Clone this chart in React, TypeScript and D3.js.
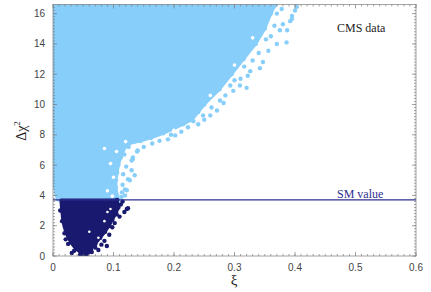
import React from 'react';
import * as d3 from 'd3';

// light-blue cloud (all points): Δχ² level, left and right edge in ξ
const lightChi = [3.7, 4.0, 4.5, 5.0, 5.5, 6.0, 6.5, 7.0, 7.4, 7.6, 7.8, 8.1, 8.4, 8.7, 9.0, 9.5, 10.0, 11.0, 12.0, 13.0, 14.0, 15.0, 16.0, 16.6];
const lightLeft = [0.008, 0.005, 0.003, 0.001, 0, 0, 0, 0, 0, 0, 0, 0, 0, 0, 0, 0, 0, 0, 0, 0, 0, 0, 0, 0];
const lightRight = [0.108, 0.106, 0.104, 0.104, 0.106, 0.108, 0.112, 0.116, 0.125, 0.145, 0.162, 0.182, 0.2, 0.215, 0.23, 0.24, 0.25, 0.275, 0.295, 0.315, 0.335, 0.35, 0.36, 0.368];

// stray light points outside the dense edge [ξ, Δχ²]
const lightDots: [number, number][] = [
  [0.403, 16.45], [0.392, 15.5], [0.387, 14.9], [0.386, 14.1], [0.37, 14.0], [0.356, 13.55],
  [0.347, 12.8], [0.342, 12.4], [0.33, 12.9], [0.326, 12.2], [0.32, 11.1], [0.309, 11.25],
  [0.298, 10.9], [0.375, 14.9], [0.37, 16.0], [0.395, 15.85], [0.395, 15.66], [0.4, 16.2],
  [0.322, 11.9], [0.293, 11.25], [0.276, 10.26], [0.271, 9.6], [0.26, 9.28], [0.248, 9.28],
  [0.223, 8.5], [0.202, 7.96], [0.164, 7.43], [0.14, 6.97], [0.132, 6.5], [0.13, 5.66],
  [0.135, 5.33], [0.127, 5.0], [0.122, 4.34], [0.119, 4.0], [0.13, 6.3], [0.139, 6.9],
  [0.132, 6.4], [0.124, 5.07], [0.119, 4.4], [0.114, 4.2], [0.38, 15.3], [0.36, 14.5],
  [0.31, 11.7], [0.285, 10.6], [0.232, 8.9], [0.19, 7.7], [0.176, 7.6], [0.125, 7.2],
  [0.378, 16.3], [0.366, 15.2], [0.352, 14.3], [0.34, 13.4], [0.316, 12.5], [0.3, 11.6],
  [0.282, 10.1], [0.262, 9.8], [0.24, 8.7], [0.212, 8.2], [0.195, 8.0], [0.15, 7.2],
  [0.118, 6.7], [0.121, 5.9], [0.116, 5.4], [0.115, 4.7], [0.113, 3.9], [0.25, 9.0],
];

// white gaps seen inside the cloud near its edge [ξ, Δχ²]
const gaps: [number, number][] = [
  [0.1, 5.2], [0.095, 6.1], [0.105, 6.9], [0.09, 4.3], [0.12, 7.55], [0.2, 8.3],
  [0.26, 10.6], [0.3, 12.6], [0.33, 14.4], [0.085, 7.1], [0.098, 3.95],
];

// dark cloud (Δχ² below SM value)
const darkChi = [0.05, 0.25, 0.5, 0.8, 1.2, 1.6, 2.0, 2.4, 2.8, 3.2, 3.7];
const darkLeft = [0.05, 0.045, 0.037, 0.031, 0.025, 0.021, 0.018, 0.016, 0.015, 0.014, 0.013];
const darkRight = [0.055, 0.058, 0.063, 0.07, 0.078, 0.086, 0.093, 0.098, 0.104, 0.108, 0.106];

const darkDots: [number, number][] = [
  [0.124, 3.15], [0.122, 3.1], [0.104, 3.35], [0.089, 0.66], [0.031, 0.2], [0.064, 0.26],
  [0.075, 0.4], [0.025, 0.8], [0.102, 2.17], [0.105, 2.76], [0.053, 0.02], [0.115, 3.6],
  [0.019, 1.5], [0.015, 2.3], [0.021, 1.1], [0.035, 0.35], [0.045, 0.1], [0.093, 1.4],
  [0.085, 1.0], [0.098, 1.9], [0.11, 2.6], [0.118, 2.9], [0.112, 3.4], [0.012, 3.0],
  [0.08, 0.75], [0.07, 0.55],
];

const darkGaps: [number, number][] = [
  [0.085, 2.3], [0.09, 2.9], [0.06, 1.6], [0.095, 3.1], [0.075, 1.2],
];

const smValue = 3.7;
const xTicks = [0, 0.1, 0.2, 0.3, 0.4, 0.5, 0.6];
const yTicks = [0, 2, 4, 6, 8, 10, 12, 14, 16];

const LIGHT = '#87cefa';
const DARK = '#191970';

export default function App() {
  const W = 431, H = 292;
  const x = d3.scaleLinear().domain([0, 0.6]).range([53, 416]);
  const y = d3.scaleLinear().domain([0, 16.6]).range([256, 4.5]);

  const lightRows = lightChi.map((c, i) => ({ c, l: lightLeft[i], r: lightRight[i] }));
  const darkRows = darkChi.map((c, i) => ({ c, l: darkLeft[i], r: darkRight[i] }));
  const area = d3.area<{ c: number; l: number; r: number }>()
    .y(d => y(d.c)).x0(d => x(d.l)).x1(d => x(d.r)).curve(d3.curveLinear);

  const xMinor = d3.range(0, 0.6001, 0.01);
  const yMinor = d3.range(0, 16.6, 0.2);
  const [x0, x1] = x.range();
  const [y0, y1] = y.range();

  return (
    <svg width={W} height={H} style={{ position: 'absolute', left: 0, top: 0 }}>
      <defs>
        <clipPath id="plot"><rect x={x0} y={y1} width={x1 - x0} height={y0 - y1} /></clipPath>
      </defs>
      <g clipPath="url(#plot)">
        <path d={area(lightRows) || ''} fill={LIGHT} stroke={LIGHT} strokeWidth={3} strokeLinejoin="round" />
        {lightRows.map((d, i) => <circle key={'lr' + i} cx={x(d.r)} cy={y(d.c)} r={2.3} fill={LIGHT} />)}
        {gaps.map((d, i) => <circle key={'g' + i} cx={x(d[0])} cy={y(d[1])} r={1.8} fill="#fff" />)}
        {lightDots.map((d, i) => <circle key={'ld' + i} cx={x(d[0])} cy={y(d[1])} r={2.2} fill={LIGHT} />)}
        <path d={area(darkRows) || ''} fill={DARK} stroke={DARK} strokeWidth={3} strokeLinejoin="round" />
        {darkRows.map((d, i) => <circle key={'dr' + i} cx={x(d.r)} cy={y(d.c)} r={2.3} fill={DARK} />)}
        {darkGaps.map((d, i) => <circle key={'dg' + i} cx={x(d[0])} cy={y(d[1])} r={1.3} fill="#fff" />)}
        {darkDots.map((d, i) => <circle key={'dd' + i} cx={x(d[0])} cy={y(d[1])} r={2.2} fill={DARK} />)}
      </g>
      <line x1={x0} x2={x1} y1={y(smValue)} y2={y(smValue)} stroke="#2e2e8f" strokeWidth={1.3} />
      <text x={337} y={198} fontFamily="Liberation Serif, serif" fontSize={12} fill="#2e2e8f">SM value</text>
      <text x={337} y={32} fontFamily="Liberation Serif, serif" fontSize={12} fill="#222">CMS data</text>

      {/* frame and ticks */}
      <g stroke="#7a7a7a" strokeWidth={0.8} opacity={0.85}>
        <rect x={x0} y={y1} width={x1 - x0} height={y0 - y1} fill="none" />
        {xMinor.map((t, i) => (
          <g key={'xm' + i}>
            <line x1={x(t)} x2={x(t)} y1={y0} y2={y0 - 2} />
            <line x1={x(t)} x2={x(t)} y1={y1} y2={y1 + 2} />
          </g>
        ))}
        {xTicks.map((t, i) => (
          <g key={'xM' + i}>
            <line x1={x(t)} x2={x(t)} y1={y0} y2={y0 - 4} />
            <line x1={x(t)} x2={x(t)} y1={y1} y2={y1 + 4} />
          </g>
        ))}
        {yMinor.map((t, i) => (
          <g key={'ym' + i}>
            <line x1={x0} x2={x0 + 2} y1={y(t)} y2={y(t)} />
            <line x1={x1} x2={x1 - 2} y1={y(t)} y2={y(t)} />
          </g>
        ))}
        {yTicks.map((t, i) => (
          <g key={'yM' + i}>
            <line x1={x0} x2={x0 + 4} y1={y(t)} y2={y(t)} />
            <line x1={x1} x2={x1 - 4} y1={y(t)} y2={y(t)} />
          </g>
        ))}
      </g>
      <g fontFamily="Liberation Sans, Arial, sans-serif" fontSize={10} fill="#444">
        {xTicks.map((t, i) => (
          <text key={'xl' + i} x={x(t)} y={271} textAnchor="middle">{t === 0 ? '0' : t.toFixed(1)}</text>
        ))}
        {yTicks.map((t, i) => (
          <text key={'yl' + i} x={45} y={y(t) + 3.5} textAnchor="end">{t}</text>
        ))}
      </g>
      <text x={234} y={285} textAnchor="middle" fontFamily="Liberation Serif, serif" fontSize={15} fill="#222">ξ</text>
      <text transform="translate(26,131) rotate(-90)" textAnchor="middle" fontFamily="Liberation Serif, serif" fontSize={14} fill="#222">
        Δχ<tspan dy={-6} fontSize={9}>2</tspan>
      </text>
    </svg>
  );
}
